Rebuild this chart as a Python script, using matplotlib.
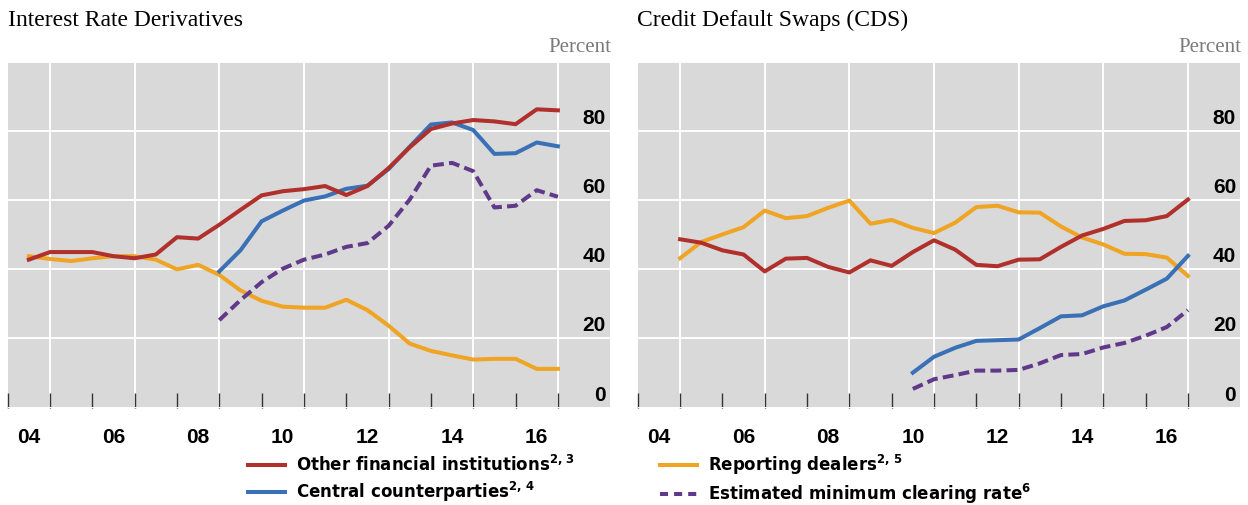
import numpy as np
import matplotlib
matplotlib.use("Agg")
import matplotlib.pyplot as plt
from matplotlib.lines import Line2D
from matplotlib import transforms

# Data (percent, half-yearly)
ird_dates = np.arange(2004.5, 2017.01, 0.5)
ird_ofi = [42.8, 45.0, 45.0, 45.0, 43.8, 43.2, 44.3, 49.3, 48.9, 52.9, 57.2, 61.4, 62.6,
           63.2, 64.1, 61.5, 64.1, 69.3, 75.3, 80.6, 82.2, 83.2, 82.8, 82.0, 86.3, 86.0]
ird_dealers = [43.8, 43.0, 42.4, 43.2, 43.8, 43.8, 42.8, 40.0, 41.3, 38.4, 33.9, 30.9, 29.2,
               28.9, 28.9, 31.2, 28.2, 23.7, 18.5, 16.4, 15.1, 13.9, 14.1, 14.1, 11.2, 11.2]
ird_ccp_dates = np.arange(2009.0, 2017.01, 0.5)
ird_ccp = [39.4, 45.5, 53.9, 57.0, 59.9, 61.1, 63.3, 64.2, 69.0, 75.5, 81.9, 82.5, 80.3,
           73.4, 73.6, 76.7, 75.6]
ird_clearing = [25.3, 31.1, 36.3, 40.2, 42.8, 44.3, 46.5, 47.6, 52.6, 60.2, 70.0, 70.8, 68.4,
                57.9, 58.4, 62.9, 61.0]

cds_dates = np.arange(2005.0, 2017.01, 0.5)
cds_ofi = [48.7, 47.7, 45.5, 44.3, 39.4, 43.1, 43.3, 40.7, 39.1, 42.6, 41.0, 45.0, 48.4,
           45.7, 41.3, 40.9, 42.8, 42.9, 46.5, 49.8, 51.7, 54.0, 54.2, 55.4, 60.2]
cds_dealers = [43.2, 47.9, 50.1, 52.2, 57.0, 54.8, 55.4, 57.8, 59.9, 53.2, 54.3, 52.0, 50.5,
               53.5, 58.0, 58.4, 56.5, 56.4, 52.4, 49.2, 47.2, 44.5, 44.4, 43.4, 38.1]
cds_ccp_dates = np.arange(2010.5, 2017.01, 0.5)
cds_ccp = [10.1, 14.7, 17.3, 19.3, 19.5, 19.7, 23.0, 26.4, 26.7, 29.3, 31.0, 34.1, 37.3, 43.9]
cds_clearing = [5.4, 8.2, 9.4, 10.7, 10.7, 10.9, 12.8, 15.2, 15.5, 17.4, 18.7, 20.8, 23.3, 28.2]

year_labels = ["04", "06", "08", "10", "12", "14", "16"]
y_labels = [0, 20, 40, 60, 80]

RED = "#B0302C"
BLUE = "#3A70B5"
ORANGE = "#EFA423"
PURPLE = "#61398A"
GREY_BG = "#D9D9D9"
DASH = (0, (2.7, 1.3))
LW = 2.9

plt.rcParams['font.family'] = ['Liberation Sans', 'DejaVu Sans']
plt.rcParams['mathtext.fontset'] = 'custom'
plt.rcParams['mathtext.bf'] = 'DejaVu Sans:bold'
plt.rcParams['mathtext.rm'] = 'DejaVu Sans'

fig = plt.figure(figsize=(12.48, 5.05), dpi=100)
ax1 = fig.add_axes([0.00615, 0.1929, 0.4826, 0.6844])
ax2 = fig.add_axes([0.5110, 0.1929, 0.4826, 0.6844])

ax1.plot(ird_dates, ird_dealers, color=ORANGE, lw=LW, zorder=3)
ax1.plot(ird_ccp_dates, ird_clearing, color=PURPLE, lw=LW, ls=DASH, zorder=3)
ax1.plot(ird_ccp_dates, ird_ccp, color=BLUE, lw=LW, zorder=3)
ax1.plot(ird_dates, ird_ofi, color=RED, lw=LW, zorder=3)

ax2.plot(cds_dates, cds_dealers, color=ORANGE, lw=LW, zorder=3)
ax2.plot(cds_ccp_dates, cds_clearing, color=PURPLE, lw=LW, ls=DASH, zorder=3)
ax2.plot(cds_dates, cds_ofi, color=RED, lw=LW, zorder=3)
ax2.plot(cds_ccp_dates, cds_ccp, color=BLUE, lw=LW, zorder=3)

for ax in (ax1, ax2):
    ax.set_facecolor(GREY_BG)
    ax.set_xlim(2004, 2018.23)
    ax.set_ylim(0, 100)
    for s in ax.spines.values():
        s.set_visible(False)
    # y grid and labels (labels sit above the gridlines, inside the plot)
    ax.set_yticks([0, 20, 40, 60, 80, 100])
    ax.tick_params(axis='y', length=0, labelleft=False)
    ax.grid(axis='y', color='white', lw=1.4, zorder=1)
    off = transforms.ScaledTranslation(-4 / 100, 12.5 / 100, fig.dpi_scale_trans)
    tr = transforms.blended_transform_factory(ax.transAxes, ax.transData) + off
    for v in y_labels:
        ax.text(1.0, v, str(v), transform=tr, ha='right', va='center',
                fontsize=15, fontweight='bold', color='black', zorder=4)
    # vertical grid at odd years
    for yr in range(2005, 2018, 2):
        ax.axvline(yr, color='white', lw=1.4, zorder=1)
    # x labels at year centres, ticks at year boundaries
    ax.set_xticks(np.arange(2004.5, 2017, 2))
    ax.set_xticklabels(year_labels, fontsize=15, fontweight='bold')
    ax.set_xticks(np.arange(2004, 2018, 1), minor=True)
    ax.tick_params(axis='x', which='major', length=0, pad=15)
    ax.tick_params(axis='x', which='minor', direction='in', length=10.8, width=1,
                   color='#333333')
    ax.text(1.003, 1.042, "Percent", transform=ax.transAxes, ha='right', va='center',
            fontsize=15, color='#7a7a7a', family='Liberation Serif')

fig.text(8 / 1248, 1 - 20.5 / 505, "Interest Rate Derivatives", ha='left', va='center',
         fontsize=17, family='Liberation Serif')
fig.text(637 / 1248, 1 - 20.5 / 505, "Credit Default Swaps (CDS)", ha='left', va='center',
         fontsize=17, family='Liberation Serif')

handles = [
    Line2D([], [], color=RED, lw=LW),
    Line2D([], [], color=BLUE, lw=LW),
    Line2D([], [], color=ORANGE, lw=LW),
    Line2D([], [], color=PURPLE, lw=LW, ls=(0, (2.0, 1.5))),
]
labels = [
    r"Other financial institutions$^{\mathbf{2,\,3}}$",
    r"Central counterparties$^{\mathbf{2,\,4}}$",
    r"Reporting dealers$^{\mathbf{2,\,5}}$",
    r"Estimated minimum clearing rate$^{\mathbf{6}}$",
]
fig.legend(handles, labels, loc='upper left', bbox_to_anchor=(248 / 1248, 1 - 453 / 505),
           ncol=2, frameon=False, borderpad=0, borderaxespad=0, handlelength=2.22,
           handletextpad=0.66, columnspacing=5.1, labelspacing=0.3,
           prop={'family': 'DejaVu Sans', 'size': 12, 'weight': 'bold'})

fig.savefig("out.png", dpi=100, facecolor='white')
